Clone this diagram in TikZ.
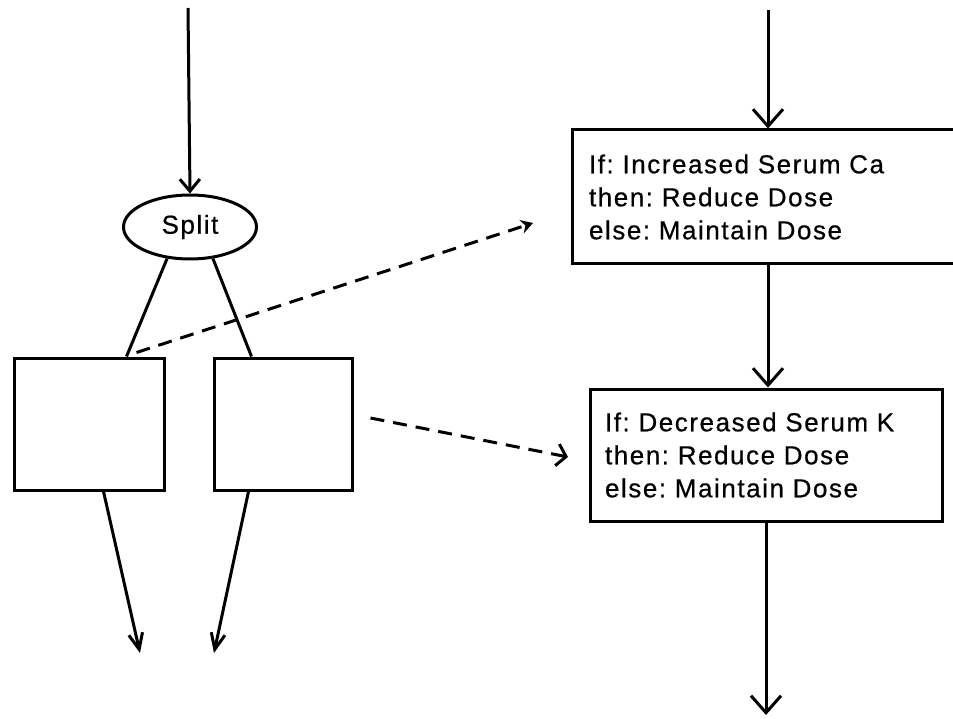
\documentclass[tikz,border=0pt]{standalone}
\usepackage{fontspec}
\setmainfont{Liberation Sans}[LetterSpace=6,FakeBold=0.6]
\frenchspacing
\usetikzlibrary{arrows.meta,shapes.geometric,calc}
\begin{document}
\begin{tikzpicture}[x=1pt,y=-1pt,
  txt/.style={font=\fontsize{26}{33}\selectfont},
  plain/.style={draw,line width=3pt,rectangle,inner sep=0pt},
  rulebox/.style={draw,line width=3pt,rectangle,align=left,inner ysep=0pt,txt},
  conn/.style={line width=3pt},
  arrbig/.style={line width=3pt,-{Straight Barb[length=17pt,width=30pt]}},
  arrsmall/.style={line width=3pt,-{Straight Barb[length=12pt,width=20pt]}},
  arrhand/.style={line width=3pt,-{Straight Barb[length=16pt,width=14pt]}},
  dashup/.style={line width=3pt,dash pattern=on 14pt off 9pt,-{Stealth[length=12pt,width=14pt,inset=4pt]}},
  dashdown/.style={line width=3pt,dash pattern=on 14pt off 9pt,-{Straight Barb[length=9pt,width=22pt]}}
]
\useasboundingbox (0,0) rectangle (953,719);

% left column
\coordinate (ltop) at (188,8);
\node[ellipse,draw,line width=3pt,minimum width=133pt,minimum height=64pt,inner sep=0pt,txt] (split) at (190,227) {Split};
\node[plain,minimum width=150pt,minimum height=132pt] (lbox) at (89,424) {};
\node[plain,minimum width=138pt,minimum height=132pt] (rbox) at (283,424) {};
\coordinate (lbottom) at (140,653);
\coordinate (rbottom) at (214,653);

\draw[arrsmall] (ltop) -- (split.north);
\draw[conn] (split.234) -- ([xshift=114pt]lbox.north west) coordinate (ljoin);
\draw[conn] (split.306) -- ([xshift=39pt]rbox.north west);
\draw[arrhand] ([xshift=91pt]lbox.south west) -- (lbottom);
\draw[arrhand] ([xshift=36pt]rbox.south west) -- (rbottom);

% right column
\coordinate (rtop) at (768,10);
\node[rulebox,minimum width=392pt,minimum height=134pt,text width=358pt,inner xsep=17pt] (ca) at (768,197)
  {If: Increased Serum Ca\\then: Reduce Dose\\else: Maintain Dose};
\node[rulebox,minimum width=352pt,minimum height=132pt,text width=322pt,inner xsep=15pt] (k) at (766,455)
  {If: Decreased Serum K\\then: Reduce Dose\\else: Maintain Dose};
\coordinate (kend) at (766,715);

\draw[arrbig] (rtop) -- (ca.north);
\draw[arrbig] (ca.south) -- (ca.south |- k.north);
\draw[arrbig] (k.south) -- (kend);

% dashed links
\coordinate (caend) at (533,223);
\draw[dashup] ([xshift=10pt,yshift=4pt]ljoin) -- (caend);
\coordinate (kend2) at (568,457);
\draw[dashdown] ([xshift=17pt,yshift=6pt]rbox.east) -- (kend2);
\end{tikzpicture}
\end{document}
